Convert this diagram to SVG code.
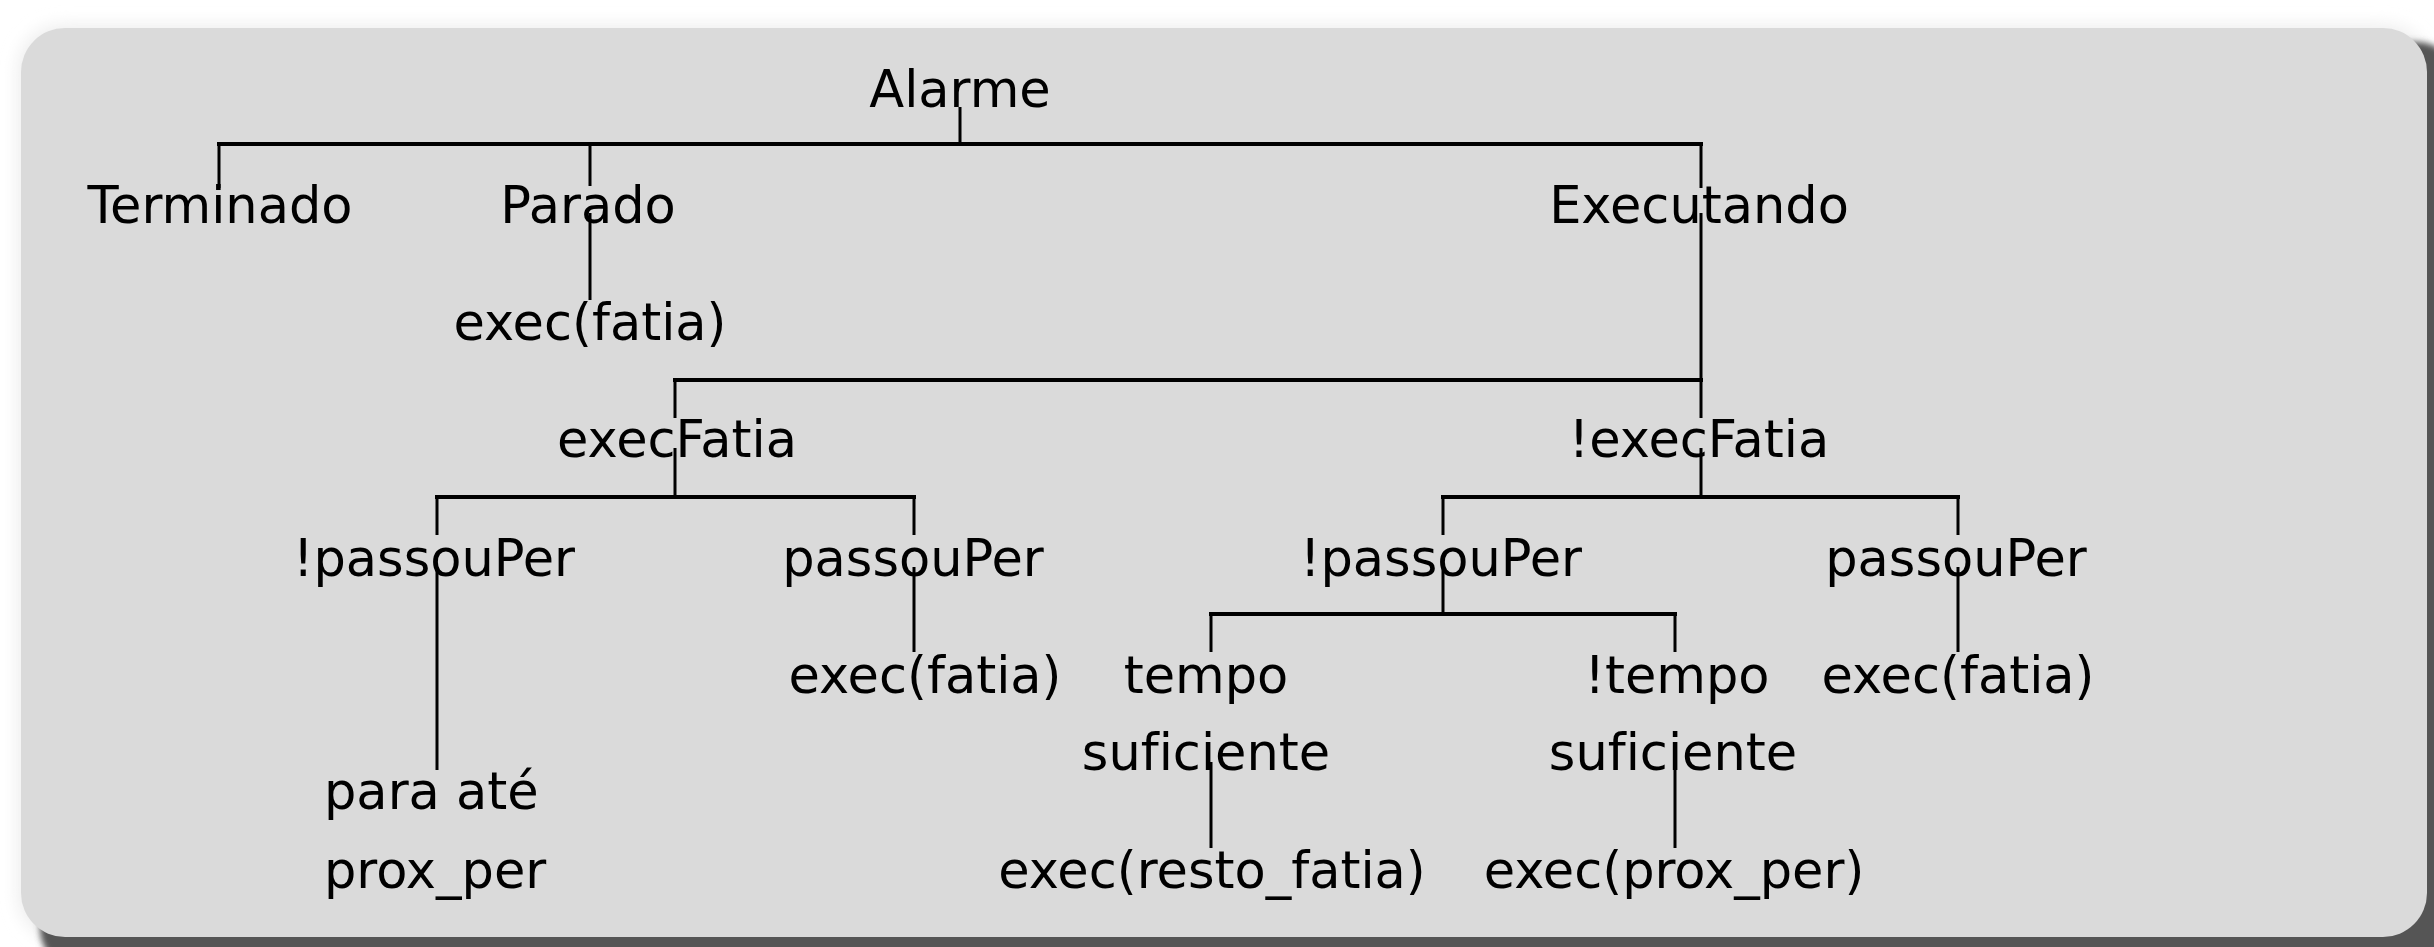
<svg xmlns="http://www.w3.org/2000/svg" width="2434" height="947" viewBox="0 0 2434 947">
<defs>
<filter id="sh" x="-5%" y="-5%" width="110%" height="110%"><feGaussianBlur stdDeviation="3"/></filter>
<filter id="gl" x="-5%" y="-5%" width="110%" height="110%"><feGaussianBlur stdDeviation="8"/></filter>
<style>
text{font-family:"DejaVu Sans","Liberation Sans",sans-serif;font-size:51px;fill:#000;text-anchor:middle;font-variant-ligatures:none}
.st{text-anchor:start}
.c line{stroke:#000;stroke-width:3}
.c line.b{stroke-width:4}
</style>
</defs>
<rect width="2434" height="947" fill="#ffffff"/>
<rect x="17" y="24" width="2414" height="917" rx="46" fill="#efefef" filter="url(#gl)"/>
<rect x="40" y="42" width="2420" height="930" rx="44" fill="#545454" filter="url(#sh)"/>
<rect x="21" y="28" width="2406" height="909" rx="44" fill="#dadada"/>
<g class="c" id="connectors">
<line x1="960" y1="107" x2="960" y2="144"/>
<line class="b" x1="217" y1="144" x2="1703" y2="144"/>
<line x1="219" y1="144" x2="219" y2="188"/>
<line x1="590" y1="144" x2="590" y2="186"/>
<line x1="590" y1="213" x2="590" y2="300"/>
<line x1="1701" y1="144" x2="1701" y2="188"/>
<line x1="1701" y1="213" x2="1701" y2="380"/>
<line class="b" x1="673" y1="380" x2="1703" y2="380"/>
<line x1="675" y1="380" x2="675" y2="418"/>
<line x1="675" y1="448" x2="675" y2="497"/>
<line x1="1701" y1="380" x2="1701" y2="418"/>
<line x1="1701" y1="448" x2="1701" y2="497"/>
<line class="b" x1="435" y1="497" x2="916" y2="497"/>
<line x1="437" y1="497" x2="437" y2="535"/>
<line x1="437" y1="567" x2="437" y2="770"/>
<line x1="914" y1="497" x2="914" y2="535"/>
<line x1="914" y1="567" x2="914" y2="652"/>
<line class="b" x1="1441" y1="497" x2="1960" y2="497"/>
<line x1="1443" y1="497" x2="1443" y2="535"/>
<line x1="1443" y1="567" x2="1443" y2="614"/>
<line x1="1958" y1="497" x2="1958" y2="535"/>
<line x1="1958" y1="567" x2="1958" y2="652"/>
<line class="b" x1="1209" y1="614" x2="1677" y2="614"/>
<line x1="1211" y1="614" x2="1211" y2="652"/>
<line x1="1675" y1="614" x2="1675" y2="652"/>
<line x1="1211" y1="762" x2="1211" y2="848"/>
<line x1="1675" y1="762" x2="1675" y2="848"/>
</g>
<g id="n-alarme"><text x="960" y="107">Alarme</text></g>
<g id="n-terminado"><text x="220" y="223">Terminado</text></g>
<g id="n-parado"><text x="588" y="223">Parado</text></g>
<g id="n-executando"><text x="1699" y="223">Executando</text></g>
<g id="n-parado-exec"><text x="590" y="340">exec(fatia)</text></g>
<g id="n-execfatia"><text x="677" y="457">execFatia</text></g>
<g id="n-notexecfatia"><text x="1699" y="457">!execFatia</text></g>
<g id="n-l-notpassou"><text x="434" y="576">!passouPer</text></g>
<g id="n-l-passou"><text x="913" y="576">passouPer</text></g>
<g id="n-r-notpassou"><text x="1441" y="576">!passouPer</text></g>
<g id="n-r-passou"><text x="1956" y="576">passouPer</text></g>
<g id="n-l-exec"><text x="925" y="693">exec(fatia)</text></g>
<g id="n-tempo"><text x="1206" y="693">tempo</text><text x="1206" y="770">suficiente</text></g>
<g id="n-nottempo"><text x="1677" y="693">!tempo</text><text x="1673" y="770">suficiente</text></g>
<g id="n-r-exec"><text x="1958" y="693">exec(fatia)</text></g>
<g id="n-para"><text class="st" x="324" y="809">para até</text><text class="st" x="324" y="888">prox_per</text></g>
<g id="n-resto"><text x="1212" y="888">exec(resto_fatia)</text></g>
<g id="n-prox"><text x="1674" y="888">exec(prox_per)</text></g>
</svg>
